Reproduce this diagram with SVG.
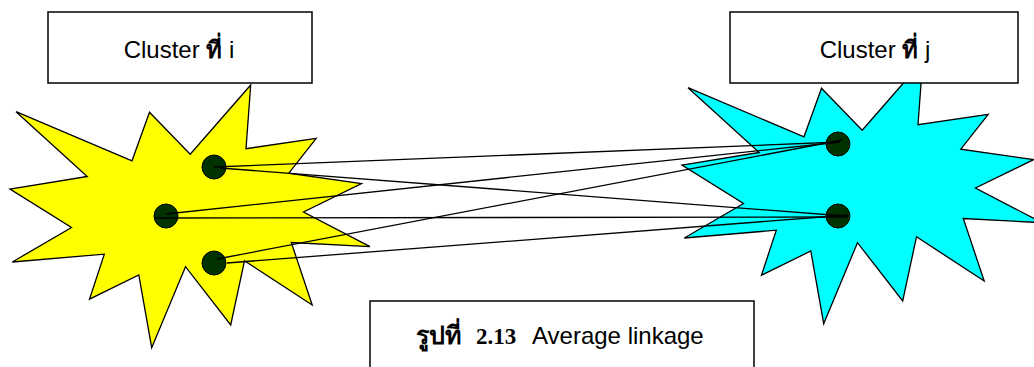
<svg xmlns="http://www.w3.org/2000/svg" xmlns:xlink="http://www.w3.org/1999/xlink" width="1034" height="367" viewBox="0 0 1034 367">
<style>
.box{fill:#fff;stroke:#000;stroke-width:1.5}
.star{stroke:#000;stroke-width:1.3;stroke-linejoin:miter}
.dot{fill:#003300;stroke:#000;stroke-width:1}
.lnk{stroke:#000;stroke-width:1.3;fill:none}
.lbl{font-family:"Liberation Sans",Arial,"Noto Sans","DejaVu Sans",sans-serif;font-size:24px;fill:#000}
.th{font-family:"Liberation Serif","Noto Serif","DejaVu Serif",serif;font-weight:bold}
</style>
<defs>
<path id="starShape" d="M250.7,85 L246,148.7 L316.2,138.3 L288.8,173.2 L361.5,183.7 L303.5,212 L370,246.7 L291.3,242.5 L312.2,305 L244.5,260.8 L230.7,325 L185.5,266.7 L151.7,347.7 L138.8,275 L89.5,299.2 L104.3,254.2 L12.3,262 L71.5,227.5 L10,189 L87.2,176.5 L16,111.7 L132,160.8 L149.5,112.2 L190.2,154.2 Z"/>
</defs>
<rect width="1034" height="367" fill="#fff"/>
<g id="cluster-i-shape">
<use xlink:href="#starShape" class="star" fill="#ffff00"/>
</g>
<g id="cluster-j-shape">
<use xlink:href="#starShape" class="star" fill="#00ffff" transform="translate(672,-24)"/>
</g>
<g id="label-i">
<rect class="box" x="48" y="12" width="264" height="71"/>
<text class="lbl" x="179" y="58" text-anchor="middle">Cluster <tspan class="th">ที่</tspan> i</text>
</g>
<g id="label-j">
<rect class="box" x="730" y="12" width="288" height="71"/>
<text class="lbl" x="875" y="58" text-anchor="middle">Cluster <tspan class="th">ที่</tspan> j</text>
</g>
<g id="points-i">
<circle class="dot" cx="214" cy="167" r="12"/>
<circle class="dot" cx="166" cy="216" r="12"/>
<circle class="dot" cx="214" cy="263" r="12"/>
</g>
<g id="points-j">
<circle class="dot" cx="838" cy="144" r="12"/>
<circle class="dot" cx="838" cy="216" r="12"/>
</g>
<g id="connectors">
<line class="lnk" x1="214" y1="167" x2="840" y2="142"/>
<line class="lnk" x1="220" y1="168" x2="845" y2="216"/>
<line class="lnk" x1="166" y1="214" x2="840" y2="142"/>
<line class="lnk" x1="155" y1="218" x2="848" y2="217"/>
<line class="lnk" x1="217" y1="259" x2="842" y2="140"/>
<line class="lnk" x1="227" y1="263" x2="848" y2="215"/>
</g>
<g id="caption">
<rect class="box" x="370" y="301" width="384" height="80"/>
<text class="lbl" y="344"><tspan class="th" x="416" font-size="25">รูปที่</tspan><tspan class="th" x="476" font-size="23">2.13</tspan><tspan x="532">Average linkage</tspan></text>
</g>
</svg>
